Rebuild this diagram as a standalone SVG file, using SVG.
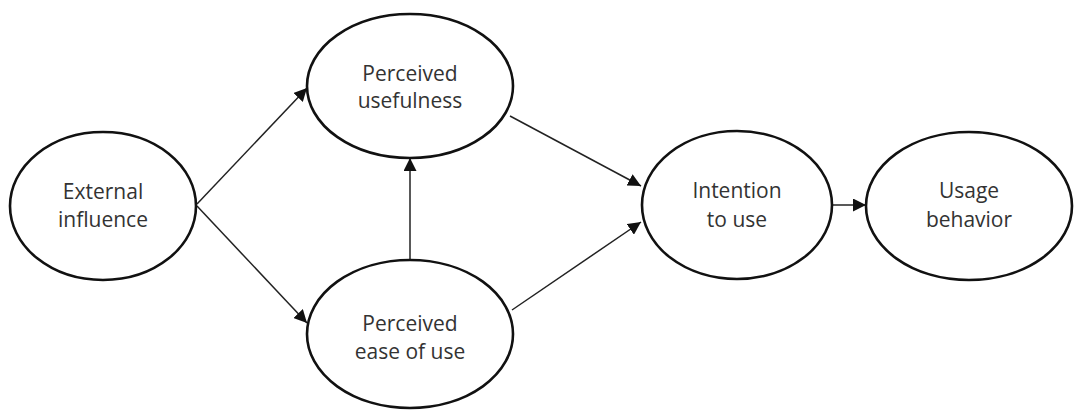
<svg xmlns="http://www.w3.org/2000/svg" width="1081" height="410" viewBox="0 0 1081 410">
<style>
.n{fill:#fff;stroke:#111;stroke-width:2.6}
.t{font-family:"Open Sans","Liberation Sans",sans-serif;font-size:21px;fill:#333;text-anchor:middle}
.c{stroke:#222;stroke-width:1.5;fill:none;marker-end:url(#ah)}
</style>
<defs>
<marker id="ah" viewBox="0 0 10 10" refX="10" refY="5" markerWidth="13" markerHeight="13" markerUnits="userSpaceOnUse" orient="auto">
<path d="M0,0L10,5L0,10z" fill="#111"/>
</marker>
</defs>
<rect width="1081" height="410" fill="#fff"/>
<g id="connectors">
<line class="c" x1="197" y1="204" x2="307" y2="88"/>
<line class="c" x1="197" y1="206" x2="307" y2="323"/>
<line class="c" x1="410" y1="260" x2="410" y2="158"/>
<line class="c" x1="510" y1="116" x2="641" y2="186"/>
<line class="c" x1="512" y1="310" x2="641" y2="222"/>
<line class="c" x1="832" y1="205" x2="866" y2="205"/>
</g>
<g id="external">
<ellipse class="n" cx="103" cy="206" rx="93" ry="74"/>
<text class="t" x="103" y="199">External</text>
<text class="t" x="103" y="227">influence</text>
</g>
<g id="usefulness">
<ellipse class="n" cx="410" cy="86" rx="103" ry="72"/>
<text class="t" x="410" y="81">Perceived</text>
<text class="t" x="410" y="108">usefulness</text>
</g>
<g id="ease">
<ellipse class="n" cx="410" cy="334" rx="103" ry="74"/>
<text class="t" x="410" y="331">Perceived</text>
<text class="t" x="410" y="359">ease of use</text>
</g>
<g id="intention">
<ellipse class="n" cx="737" cy="205" rx="95" ry="74"/>
<text class="t" x="737" y="198">Intention</text>
<text class="t" x="737" y="227">to use</text>
</g>
<g id="usage">
<ellipse class="n" cx="969" cy="206" rx="103" ry="74"/>
<text class="t" x="969" y="198">Usage</text>
<text class="t" x="969" y="227">behavior</text>
</g>
</svg>
